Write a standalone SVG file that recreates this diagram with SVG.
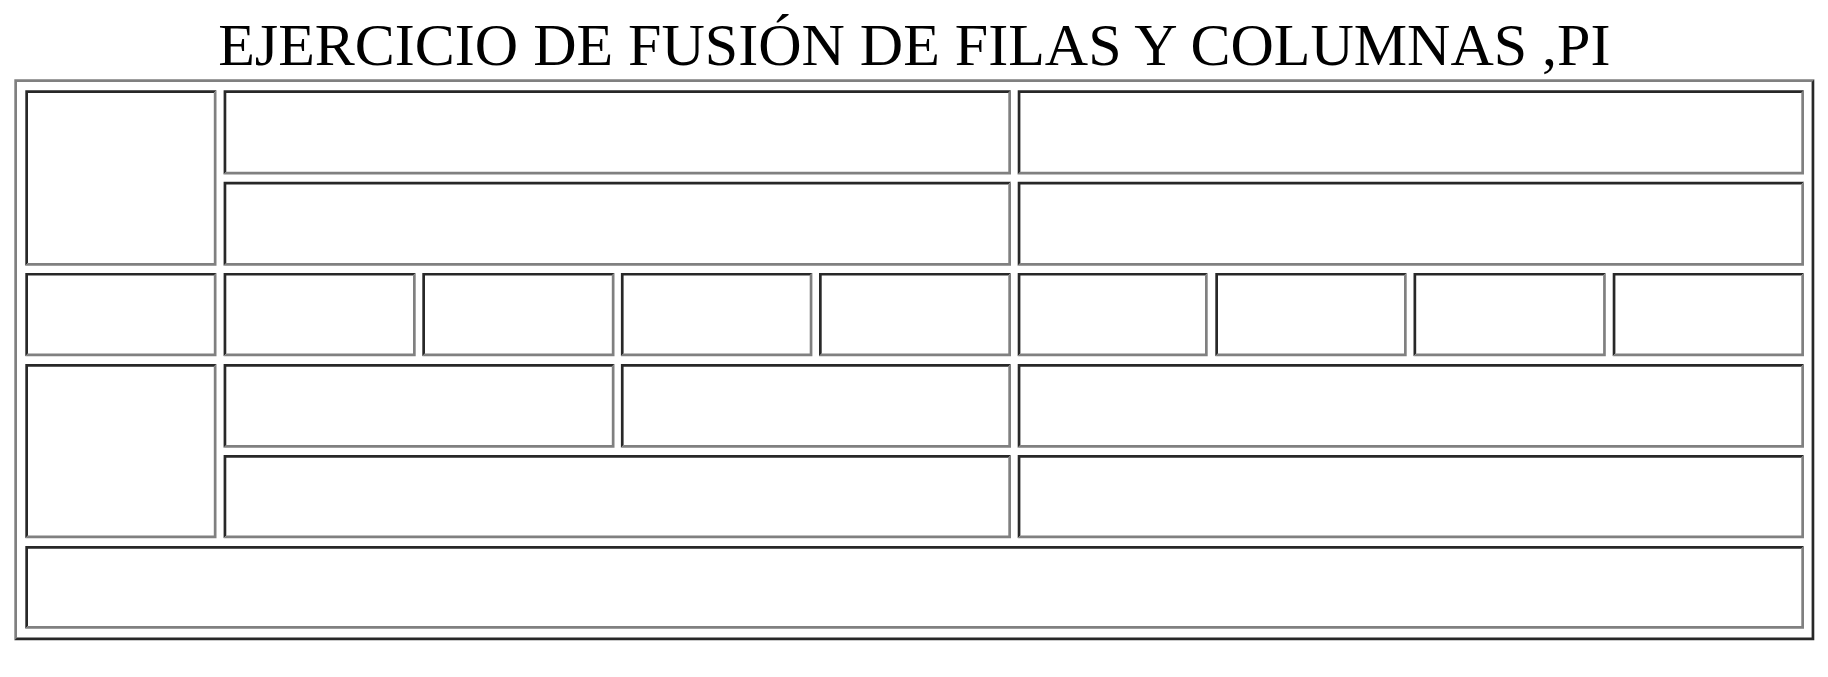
<svg xmlns="http://www.w3.org/2000/svg" width="1828" height="677" viewBox="0 0 1828 677">
<style>
.title{font-family:"Liberation Serif","Times New Roman",serif;font-size:60px;fill:#000;}
.d{fill:#282828;}
.g{fill:#808080;}
</style>
<rect x="0" y="0" width="1828" height="677" fill="#ffffff"/>
<text class="title" x="914.3" y="65" text-anchor="middle">EJERCICIO DE FUSIÓN DE FILAS Y COLUMNAS ,PI</text>
<g id="table">
<polygon class="g" points="14.3,79.3 1814.3,79.3 1811.6,82 17,82 17,637.6 14.3,640.3"/>
<polygon class="d" points="1814.3,79.3 1814.3,640.3 14.3,640.3 17,637.6 1811.6,637.6 1811.6,82"/>
</g>
<g id="cellA"><polygon class="d" points="25.3,90.3 216.5,90.3 213.8,93 28,93 28,263 25.3,265.7"/><polygon class="g" points="216.5,90.3 216.5,265.7 25.3,265.7 28,263 213.8,263 213.8,93"/></g>
<g id="cellB"><polygon class="d" points="223.6,90.3 1011,90.3 1008.3,93 226.3,93 226.3,171.8 223.6,174.5"/><polygon class="g" points="1011,90.3 1011,174.5 223.6,174.5 226.3,171.8 1008.3,171.8 1008.3,93"/></g>
<g id="cellC"><polygon class="d" points="1017.7,90.3 1804,90.3 1801.3,93 1020.4,93 1020.4,171.8 1017.7,174.5"/><polygon class="g" points="1804,90.3 1804,174.5 1017.7,174.5 1020.4,171.8 1801.3,171.8 1801.3,93"/></g>
<g id="cellD"><polygon class="d" points="223.6,181.8 1011,181.8 1008.3,184.5 226.3,184.5 226.3,263 223.6,265.7"/><polygon class="g" points="1011,181.8 1011,265.7 223.6,265.7 226.3,263 1008.3,263 1008.3,184.5"/></g>
<g id="cellE"><polygon class="d" points="1017.7,181.8 1804,181.8 1801.3,184.5 1020.4,184.5 1020.4,263 1017.7,265.7"/><polygon class="g" points="1804,181.8 1804,265.7 1017.7,265.7 1020.4,263 1801.3,263 1801.3,184.5"/></g>
<g id="cellR3C0"><polygon class="d" points="25.3,272.9 216.5,272.9 213.8,275.6 28,275.6 28,353.5 25.3,356.2"/><polygon class="g" points="216.5,272.9 216.5,356.2 25.3,356.2 28,353.5 213.8,353.5 213.8,275.6"/></g>
<g id="cellR3C1"><polygon class="d" points="223.6,272.9 415.7,272.9 413,275.6 226.3,275.6 226.3,353.5 223.6,356.2"/><polygon class="g" points="415.7,272.9 415.7,356.2 223.6,356.2 226.3,353.5 413,353.5 413,275.6"/></g>
<g id="cellR3C2"><polygon class="d" points="422.3,272.9 614.5,272.9 611.8,275.6 425,275.6 425,353.5 422.3,356.2"/><polygon class="g" points="614.5,272.9 614.5,356.2 422.3,356.2 425,353.5 611.8,353.5 611.8,275.6"/></g>
<g id="cellR3C3"><polygon class="d" points="620.9,272.9 812.4,272.9 809.7,275.6 623.6,275.6 623.6,353.5 620.9,356.2"/><polygon class="g" points="812.4,272.9 812.4,356.2 620.9,356.2 623.6,353.5 809.7,353.5 809.7,275.6"/></g>
<g id="cellR3C4"><polygon class="d" points="819,272.9 1011,272.9 1008.3,275.6 821.7,275.6 821.7,353.5 819,356.2"/><polygon class="g" points="1011,272.9 1011,356.2 819,356.2 821.7,353.5 1008.3,353.5 1008.3,275.6"/></g>
<g id="cellR3C5"><polygon class="d" points="1017.7,272.9 1207.7,272.9 1205,275.6 1020.4,275.6 1020.4,353.5 1017.7,356.2"/><polygon class="g" points="1207.7,272.9 1207.7,356.2 1017.7,356.2 1020.4,353.5 1205,353.5 1205,275.6"/></g>
<g id="cellR3C6"><polygon class="d" points="1215.3,272.9 1406.7,272.9 1404,275.6 1218,275.6 1218,353.5 1215.3,356.2"/><polygon class="g" points="1406.7,272.9 1406.7,356.2 1215.3,356.2 1218,353.5 1404,353.5 1404,275.6"/></g>
<g id="cellR3C7"><polygon class="d" points="1413.5,272.9 1605.8,272.9 1603.1,275.6 1416.2,275.6 1416.2,353.5 1413.5,356.2"/><polygon class="g" points="1605.8,272.9 1605.8,356.2 1413.5,356.2 1416.2,353.5 1603.1,353.5 1603.1,275.6"/></g>
<g id="cellR3C8"><polygon class="d" points="1612.7,272.9 1804,272.9 1801.3,275.6 1615.4,275.6 1615.4,353.5 1612.7,356.2"/><polygon class="g" points="1804,272.9 1804,356.2 1612.7,356.2 1615.4,353.5 1801.3,353.5 1801.3,275.6"/></g>
<g id="cellF"><polygon class="d" points="25.3,364 216.5,364 213.8,366.7 28,366.7 28,535.6 25.3,538.3"/><polygon class="g" points="216.5,364 216.5,538.3 25.3,538.3 28,535.6 213.8,535.6 213.8,366.7"/></g>
<g id="cellG"><polygon class="d" points="223.6,364 614.5,364 611.8,366.7 226.3,366.7 226.3,445 223.6,447.7"/><polygon class="g" points="614.5,364 614.5,447.7 223.6,447.7 226.3,445 611.8,445 611.8,366.7"/></g>
<g id="cellH"><polygon class="d" points="620.9,364 1011,364 1008.3,366.7 623.6,366.7 623.6,445 620.9,447.7"/><polygon class="g" points="1011,364 1011,447.7 620.9,447.7 623.6,445 1008.3,445 1008.3,366.7"/></g>
<g id="cellI"><polygon class="d" points="1017.7,364 1804,364 1801.3,366.7 1020.4,366.7 1020.4,445 1017.7,447.7"/><polygon class="g" points="1804,364 1804,447.7 1017.7,447.7 1020.4,445 1801.3,445 1801.3,366.7"/></g>
<g id="cellJ"><polygon class="d" points="223.6,455 1011,455 1008.3,457.7 226.3,457.7 226.3,535.6 223.6,538.3"/><polygon class="g" points="1011,455 1011,538.3 223.6,538.3 226.3,535.6 1008.3,535.6 1008.3,457.7"/></g>
<g id="cellK"><polygon class="d" points="1017.7,455 1804,455 1801.3,457.7 1020.4,457.7 1020.4,535.6 1017.7,538.3"/><polygon class="g" points="1804,455 1804,538.3 1017.7,538.3 1020.4,535.6 1801.3,535.6 1801.3,457.7"/></g>
<g id="cellL"><polygon class="d" points="25.3,546 1804,546 1801.3,548.7 28,548.7 28,626 25.3,628.7"/><polygon class="g" points="1804,546 1804,628.7 25.3,628.7 28,626 1801.3,626 1801.3,548.7"/></g>
<g id="connectors"></g>
</svg>
